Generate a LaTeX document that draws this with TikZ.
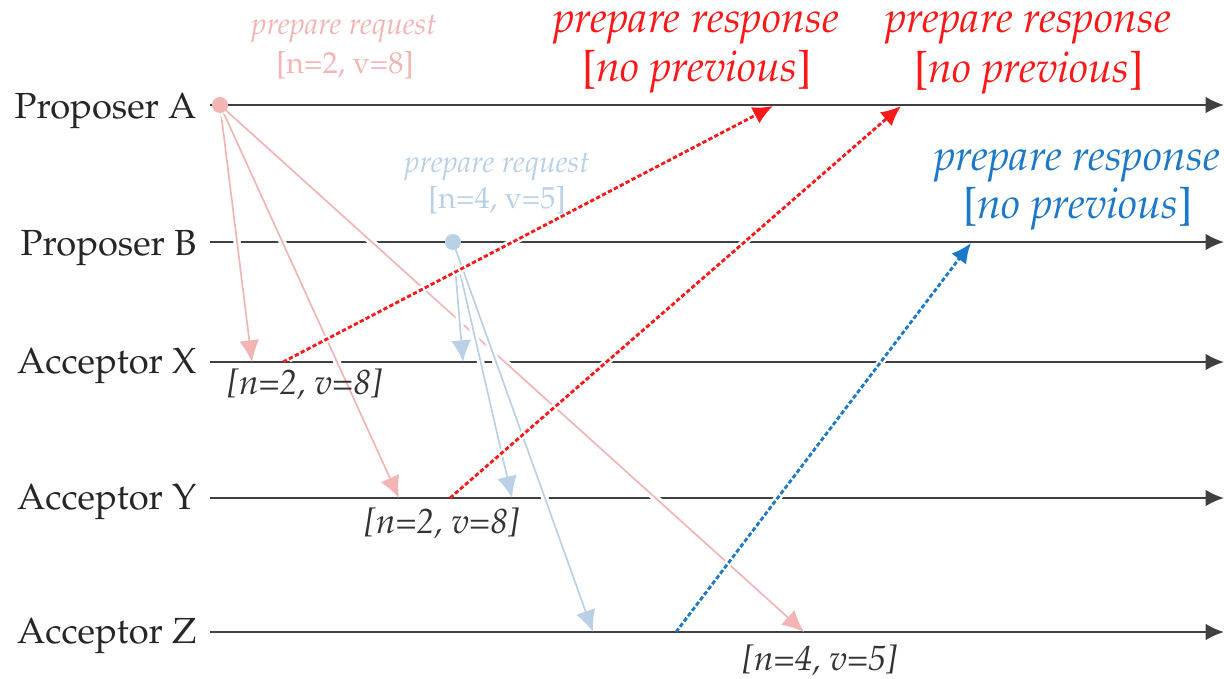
\documentclass[tikz,border=0pt]{standalone}
\usepackage[T1]{fontenc}
\usepackage{mathpazo}
\usetikzlibrary{arrows.meta}
\definecolor{reqpink}{RGB}{243,180,180}
\definecolor{reqblue}{RGB}{186,208,230}
\definecolor{resred}{RGB}{250,24,24}
\definecolor{resblue}{RGB}{28,120,200}
\definecolor{linegray}{RGB}{64,64,64}
\newcommand{\noprev}{{\upshape[}no previous{\upshape]}}
\tikzset{lifeline/.style={draw=linegray,line width=0.7pt,-{Latex[length=5.5pt,width=5pt]}},
actor/.style={anchor=base east,inner sep=0pt,text=black!85,font=\fontsize{10.9}{13}\selectfont},
halo/.style={preaction={draw=white,line width=2.2pt,arrows=-,shorten >=6pt,shorten <=2pt}},
request/.style={halo,draw=#1,line width=0.5pt,-{Latex[length=6.5pt,width=6pt]}},
response/.style={halo,draw=#1,line width=0.85pt,dash pattern=on 1.3pt off 0.7pt,-{Latex[length=6pt,width=5.5pt]}},
start/.style={circle,fill=#1,inner sep=0pt,minimum size=4.8pt},
reqlabel/.style={anchor=base,inner sep=0pt,text=#1,font=\fontsize{9.1}{11}\selectfont},
reslabel/.style={anchor=base,inner sep=0pt,text=#1,font=\fontsize{12.9}{15}\selectfont\itshape},
state/.style={anchor=base,inner sep=0pt,text=black!80,font=\fontsize{10.5}{12}\selectfont\itshape}}

\begin{document}
\begin{tikzpicture}[x=0.3pt,y=-0.3pt]
\useasboundingbox (0,0) rectangle (1224,679);
% lifelines
\foreach \name/\txt/\y/\b in {pa/Proposer A/105/13, pb/Proposer B/242/13, ax/Acceptor X/362/11, ay/Acceptor Y/498/11, az/Acceptor Z/632/11}{
  \node[actor] (\name) at (197,\y+\b) {\txt};
  \coordinate (\name start) at (210,\y);
  \coordinate (\name end) at (1224,\y);
  \draw[lifeline] (\name start) -- (\name end);
}
% message ends
\coordinate (pa src) at (220,105);
\coordinate (pb src) at (453,242);
\coordinate (ax in1) at (252,362);
\coordinate (ay in1) at (399,498);
\coordinate (az in1) at (804,632);
\coordinate (ax in2) at (463,362);
\coordinate (ay in2) at (512,498);
\coordinate (az in2) at (593,632);
\coordinate (ax out) at (283,362);
\coordinate (ay out) at (450,498);
\coordinate (az out) at (676,632);
\coordinate (pa in1) at (773,106);
\coordinate (pa in2) at (901,106);
\coordinate (pb in) at (971,243);
% prepare requests
\draw[request=reqpink] (pa src) -- (ax in1);
\draw[request=reqpink] (pa src) -- (ay in1);
\draw[request=reqpink] (pa src) -- (az in1);
\draw[request=reqblue] (pb src) -- (ax in2);
\draw[request=reqblue] (pb src) -- (ay in2);
\draw[request=reqblue] (pb src) -- (az in2);
% prepare responses
\draw[response=resred] (ax out) -- (pa in1);
\draw[response=resred] (ay out) -- (pa in2);
\draw[response=resblue] (az out) -- (pb in);
\node[start=reqpink] (dota) at (pa src) {};
\node[start=reqblue] (dotb) at (pb src) {};
% labels
\node[reqlabel=reqpink] (reqa) at (344,35) {\itshape prepare request};
\node[reqlabel=reqpink] (reqav) at (345,74) {[n=2, v=8]};
\node[reqlabel=reqblue] (reqb) at (497,173) {\itshape prepare request};
\node[reqlabel=reqblue] (reqbv) at (497,209) {[n=4, v=5]};
\node[reslabel=resred] (resx) at (696,33) {prepare response};
\node[reslabel=resred] (resxv) at (697,82) {\noprev};
\node[reslabel=resred] (resy) at (1028,33) {prepare response};
\node[reslabel=resred] (resyv) at (1029,83) {\noprev};
\node[reslabel=resblue] (resz) at (1077,170) {prepare response};
\node[reslabel=resblue] (reszv) at (1078,218) {\noprev};
\node[state] (stx) at (305,394) {[n=2, v=8]};
\node[state] (sty) at (442,533) {[n=2, v=8]};
\node[state] (stz) at (820,670) {[n=4, v=5]};
\end{tikzpicture}
\end{document}
